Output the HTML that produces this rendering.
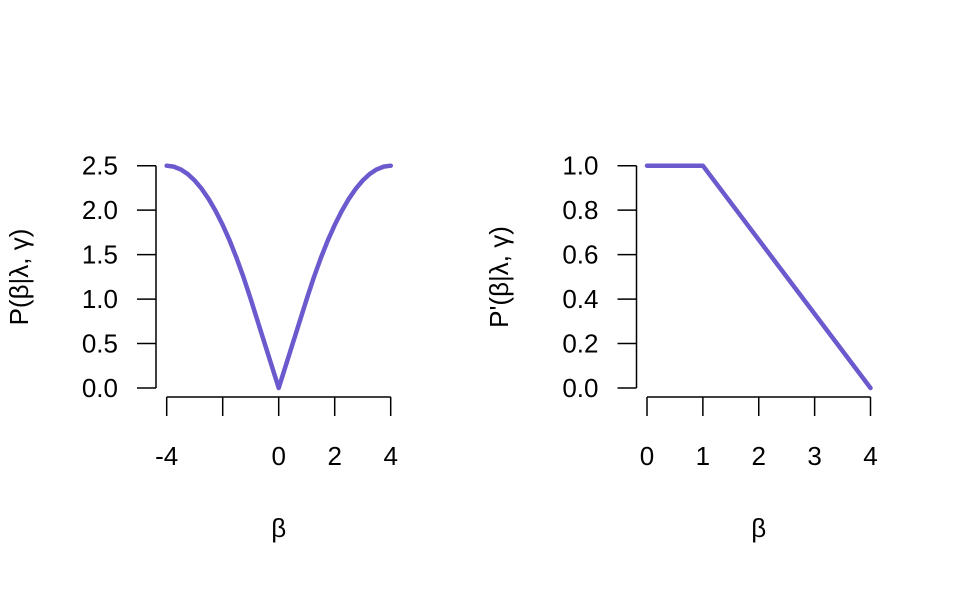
<!DOCTYPE html>
<html><head><meta charset="utf-8"><style>
body{margin:0;background:#fff}
svg text{font-family:"Liberation Sans",sans-serif;font-size:26px;fill:#000}
</style></head><body>
<svg width="960" height="593">
<g id="g"></g>
</svg>
<script>
const leftBeta=[-4,-3.75,-3.5,-3.25,-3,-2.75,-2.5,-2.25,-2,-1.75,-1.5,-1.25,-1,-0.5,0,0.5,1,1.25,1.5,1.75,2,2.25,2.5,2.75,3,3.25,3.5,3.75,4];
const leftP=[2.5,2.4896,2.4583,2.4063,2.3333,2.2396,2.125,1.9896,1.8333,1.6563,1.4583,1.2396,1,0.5,0,0.5,1,1.2396,1.4583,1.6563,1.8333,1.9896,2.125,2.2396,2.3333,2.4063,2.4583,2.4896,2.5];
const leftXTicks=[-4,-2,0,2,4];
const leftXLabels=["-4","","0","2","4"];
const leftYTicks=[0,0.5,1,1.5,2,2.5];
const leftYLabels=["0.0","0.5","1.0","1.5","2.0","2.5"];
const rightBeta=[0,1,4];
const rightP=[1,1,0];
const rightXTicks=[0,1,2,3,4];
const rightXLabels=["0","1","2","3","4"];
const rightYTicks=[0,0.2,0.4,0.6,0.8,1];
const rightYLabels=["0.0","0.2","0.4","0.6","0.8","1.0"];
const NS="http://www.w3.org/2000/svg";
const g=document.getElementById('g');
function mk(t,a,txt){const e=document.createElementNS(NS,t);for(const k in a)e.setAttribute(k,a[k]);if(txt!==undefined)e.textContent=txt;g.appendChild(e);return e;}
function panel(p){
 const sx=v=>p.x0+(v-p.xmin)/(p.xmax-p.xmin)*(p.x1-p.x0);
 const sy=v=>p.y0-(v-p.ymin)/(p.ymax-p.ymin)*(p.y0-p.y1);
 let e=mk('line',{x1:p.ax,x2:p.ax,y1:sy(p.ymax),y2:sy(p.ymin),stroke:'#000','stroke-width':1.5});
 
 p.yt.forEach((v,i)=>{let t=mk('line',{x1:p.ax-19,x2:p.ax,y1:sy(v),y2:sy(v),stroke:'#000','stroke-width':1.5});
  
  let l=mk('text',{x:p.ax-38,y:sy(v)+9,'text-anchor':'end'},p.yl[i]);
  });
 e=mk('line',{x1:sx(p.xmin),x2:sx(p.xmax),y1:397,y2:397,stroke:'#000','stroke-width':1.5});
 
 p.xt.forEach((v,i)=>{let t=mk('line',{x1:sx(v),x2:sx(v),y1:397,y2:416,stroke:'#000','stroke-width':1.5});
  
  let l=mk('text',{x:sx(v),y:465,'text-anchor':'middle'},p.xl[i]);
  });
 let pts=p.bx.map((b,i)=>sx(b)+','+sy(p.by[i])).join(' ');
 e=mk('polyline',{points:pts,fill:'none',stroke:'#6a5acd','stroke-width':4.5,'stroke-linejoin':'round','stroke-linecap':'round'});
 
 e=mk('text',{x:(p.x0+p.x1)/2,y:537,'text-anchor':'middle'},'β');
 
 e=mk('text',{x:0,y:0,'text-anchor':'middle',transform:`translate(${p.tx},277) rotate(-90)`},p.title);
 
}
panel({n:'left',x0:166.7,x1:390.7,xmin:-4,xmax:4,y0:388,y1:165.7,ymin:0,ymax:2.5,ax:156,
 yt:leftYTicks,yl:leftYLabels,xt:leftXTicks,xl:leftXLabels,bx:leftBeta,by:leftP,tx:28,title:'P(β|λ, γ)'});
panel({n:'right',x0:647,x1:870.5,xmin:0,xmax:4,y0:388,y1:165.7,ymin:0,ymax:1,ax:636.5,
 yt:rightYTicks,yl:rightYLabels,xt:rightXTicks,xl:rightXLabels,bx:rightBeta,by:rightP,tx:508,title:'P\'(β|λ, γ)'});
</script>
</body></html>
